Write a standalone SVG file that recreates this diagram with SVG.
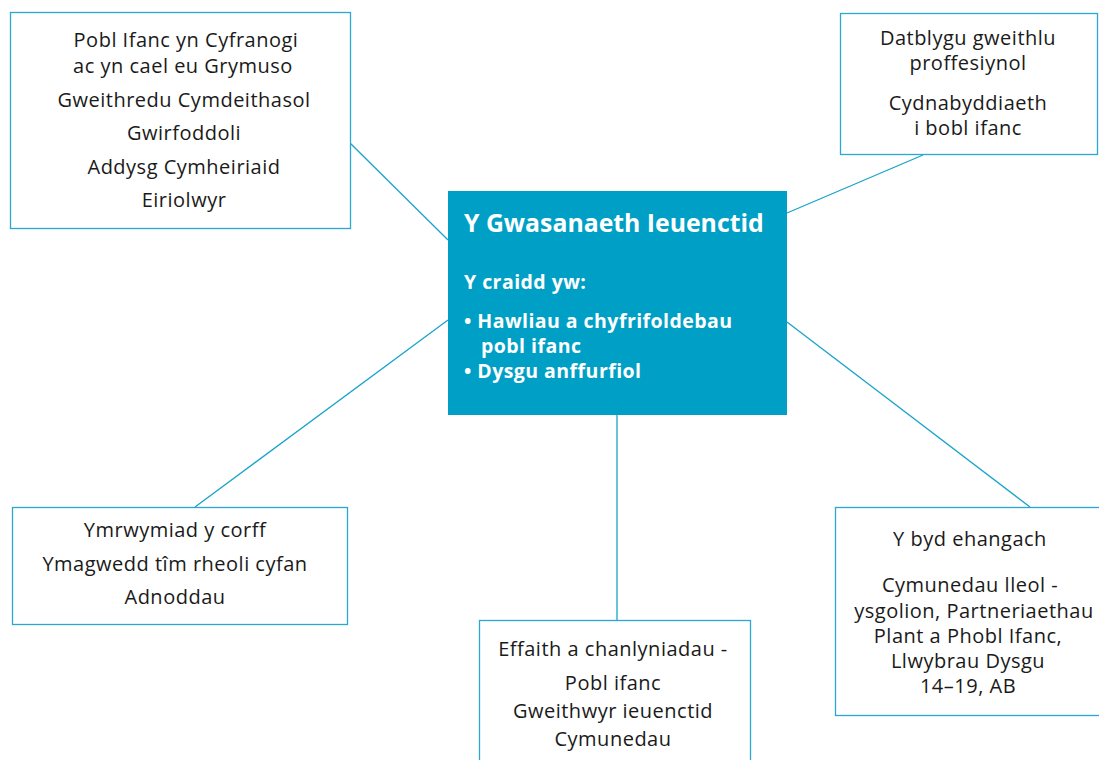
<svg xmlns="http://www.w3.org/2000/svg" width="1099" height="760" viewBox="0 0 1099 760">
<style>
.box{fill:#fff;stroke:#2aa8d2;stroke-width:1.3}
.t{font-family:"Open Sans","Liberation Sans",sans-serif;font-size:20px;letter-spacing:0.5px;fill:#1a1a1a;text-anchor:middle}
.w{font-family:"Open Sans","Liberation Sans",sans-serif;fill:#fff;font-weight:bold}
.b{font-size:19.5px;letter-spacing:0.45px}
.c{stroke:#1ba3cc;stroke-width:1.3;fill:none}
</style>
<rect width="1099" height="760" fill="#fff"/>
<g id="connectors">
<line class="c" x1="350" y1="143" x2="448" y2="240"/>
<line class="c" x1="923" y1="155" x2="787" y2="213"/>
<line class="c" x1="195" y1="507" x2="448" y2="320"/>
<line class="c" x1="617" y1="415" x2="617" y2="620"/>
<line class="c" x1="787" y1="322" x2="1030" y2="507"/>
</g>
<g id="center">
<rect x="448" y="191" width="339" height="224" fill="#00a0c6"/>
<text class="w" x="464" y="232" font-size="24.8">Y Gwasanaeth Ieuenctid</text>
<text class="w b" x="464" y="289">Y craidd yw:</text>
<text class="w b" x="464" y="328">• Hawliau a chyfrifoldebau</text>
<text class="w b" x="481" y="353">pobl ifanc</text>
<text class="w b" x="464" y="378">• Dysgu anffurfiol</text>
</g>
<g id="top-left">
<rect class="box" x="10.5" y="12.5" width="340" height="216"/>
<text class="t" x="186" y="47">Pobl Ifanc yn Cyfranogi</text>
<text class="t" x="183" y="73">ac yn cael eu Grymuso</text>
<text class="t" x="184" y="107">Gweithredu Cymdeithasol</text>
<text class="t" x="184" y="140">Gwirfoddoli</text>
<text class="t" x="184" y="174">Addysg Cymheiriaid</text>
<text class="t" x="184" y="207">Eiriolwyr</text>
</g>
<g id="top-right">
<rect class="box" x="840.5" y="13.5" width="257" height="141"/>
<text class="t" x="968" y="45">Datblygu gweithlu</text>
<text class="t" x="968" y="70">proffesiynol</text>
<text class="t" x="968" y="110">Cydnabyddiaeth</text>
<text class="t" x="968" y="135">i bobl ifanc</text>
</g>
<g id="bottom-left">
<rect class="box" x="12.5" y="507.5" width="335" height="117"/>
<text class="t" x="175" y="537">Ymrwymiad y corff</text>
<text class="t" x="175" y="571">Ymagwedd tîm rheoli cyfan</text>
<text class="t" x="175" y="604">Adnoddau</text>
</g>
<g id="bottom-center">
<rect class="box" x="479.5" y="620.5" width="271" height="150"/>
<text class="t" x="613" y="656">Effaith a chanlyniadau -</text>
<text class="t" x="613" y="690">Pobl ifanc</text>
<text class="t" x="613" y="718">Gweithwyr ieuenctid</text>
<text class="t" x="613" y="746">Cymunedau</text>
</g>
<g id="bottom-right">
<rect class="box" x="835.5" y="507.5" width="275" height="208"/>
<text class="t" x="970" y="546">Y byd ehangach</text>
<text class="t" x="970" y="592">Cymunedau lleol -</text>
<text class="t" x="974" y="618">ysgolion, Partneriaethau</text>
<text class="t" x="968" y="643">Plant a Phobl Ifanc,</text>
<text class="t" x="968" y="668">Llwybrau Dysgu</text>
<text class="t" x="968" y="693">14–19, AB</text>
</g>
</svg>
